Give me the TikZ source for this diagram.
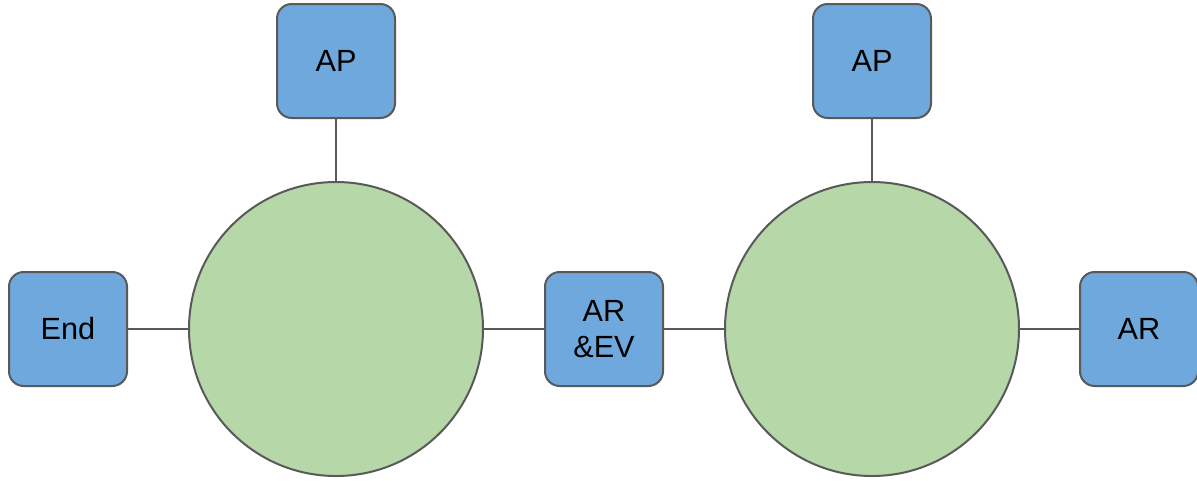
\documentclass[tikz,border=0pt]{standalone}
\usepackage{fontspec}
\setmainfont{Liberation Sans}
\definecolor{boxfill}{HTML}{6FA8DC}
\definecolor{circfill}{HTML}{B6D7A8}
\definecolor{edge}{HTML}{595959}
\begin{document}
\begin{tikzpicture}[x=0.75pt,y=-0.75pt,
  box/.style={draw=edge,line width=1.5pt,fill=boxfill,rounded corners=11pt,
    minimum width=88.5pt,minimum height=85.5pt,inner sep=0pt,align=center,
    font=\fontsize{23}{27.5}\selectfont},
  ring/.style={draw=edge,line width=1.5pt,fill=circfill,circle,minimum size=220.5pt,inner sep=0pt},
  link/.style={draw=edge,line width=1.5pt}]
\useasboundingbox (0,0) rectangle (1197,480);
\node[ring] (c1) at (336,329) {};
\node[ring] (c2) at (872,329) {};
\node[box] (ap1) at (336,61) {AP};
\node[box] (ap2) at (872,61) {AP};
\node[box] (end) at (68,329) {End};
\node[box] (arev) at (604,329) {AR\\\&EV};
\node[box] (ar) at (1139,329) {AR};
\draw[link] (ap1) -- (c1);
\draw[link] (ap2) -- (c2);
\draw[link] (end) -- (c1);
\draw[link] (c1) -- (arev);
\draw[link] (arev) -- (c2);
\draw[link] (c2) -- (ar);
\end{tikzpicture}
\end{document}
